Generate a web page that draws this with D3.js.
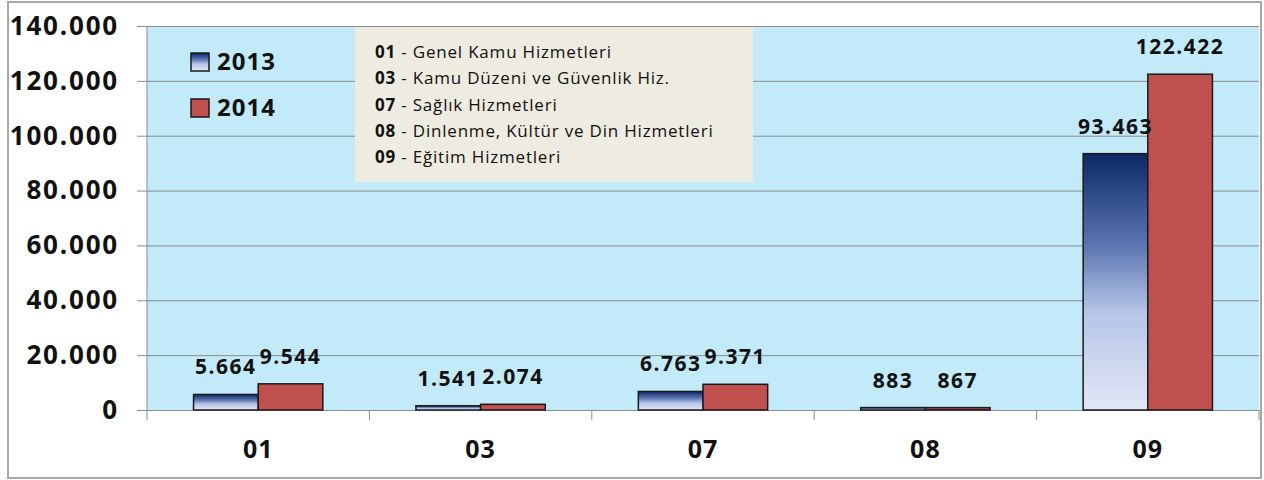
<!DOCTYPE html>
<html>
<head>
<meta charset="utf-8">
<script src="https://cdn.jsdelivr.net/npm/d3@7"></script>
<style>
    body { margin: 0; background: #fff; }
    svg text { font-family: "Open Sans", sans-serif; fill: #111; }
</style>
</head>
<body>
<svg id="chart" width="1264" height="480"></svg>
<script>
const categories = ["01", "03", "07", "08", "09"];
const seriesNames = ["2013", "2014"];
const values2013 = [5664, 1541, 6763, 883, 93463];
const values2014 = [9544, 2074, 9371, 867, 122422];
const yTicks = [0, 20000, 40000, 60000, 80000, 100000, 120000, 140000];
const descriptions = [
    ["01", "Genel Kamu Hizmetleri"],
    ["03", "Kamu Düzeni ve Güvenlik Hiz."],
    ["07", "Sağlık Hizmetleri"],
    ["08", "Dinlenme, Kültür ve Din Hizmetleri"],
    ["09", "Eğitim Hizmetleri"]
];

const svg = d3.select("#chart");
const plot = {left: 147, right: 1259, top: 26, bottom: 410};

const trFormat = d3.formatLocale({decimal: ",", thousands: ".", grouping: [3], currency: ["", ""]}).format(",d");

const x = d3.scaleBand().domain(categories).range([plot.left, plot.right]).padding(0);
const xInner = d3.scaleBand().domain(seriesNames).range([0, x.bandwidth()]).paddingInner(0).paddingOuter(0.72);
const y = d3.scaleLinear().domain([0, 140000]).range([plot.bottom, plot.top]);

// gradient for 2013 bars
const defs = svg.append("defs");
const grad = defs.append("linearGradient").attr("id", "g2013")
    .attr("x1", 0).attr("y1", 0).attr("x2", 0).attr("y2", 1);
[[0, "#0c2966"], [0.35, "#5873b0"], [0.62, "#b6c5e7"], [1, "#e1e7f5"]].forEach(s => {
    grad.append("stop").attr("offset", s[0]).attr("stop-color", s[1]);
});
const fills = {"2013": "url(#g2013)", "2014": "#c0504d"};

// outer frame
svg.append("rect").attr("x", 8).attr("y", 2).attr("width", 1253).attr("height", 476)
    .attr("fill", "#fff").attr("stroke", "#a6a6a6").attr("stroke-width", 2);

svg.append("rect").attr("x", plot.left).attr("y", plot.top)
    .attr("width", plot.right - plot.left).attr("height", plot.bottom - plot.top)
    .attr("fill", "#c2eaf9");

// y axis with gridlines
const yAxis = svg.append("g").attr("transform", "translate(" + plot.left + ",0)")
    .call(d3.axisLeft(y).tickValues(yTicks).tickFormat(trFormat)
        .tickSize(-(plot.right - plot.left)).tickPadding(28));
yAxis.select(".domain").remove();
yAxis.selectAll(".tick line").attr("stroke", "#8c8c8c").attr("x1", -10);
yAxis.selectAll(".tick text")
    .attr("font-size", 26).attr("font-weight", 700).attr("letter-spacing", 1.8)
    .attr("font-family", "'Open Sans', sans-serif").attr("fill", "#111");

svg.append("line").attr("x1", plot.left).attr("x2", plot.left)
    .attr("y1", plot.top).attr("y2", plot.bottom).attr("stroke", "#8c8c8c");

// x axis
const xAxis = svg.append("g").attr("transform", "translate(0," + plot.bottom + ")")
    .call(d3.axisBottom(x).tickSize(0).tickPadding(30));
xAxis.select(".domain").attr("stroke", "#8c8c8c");
xAxis.selectAll(".tick text")
    .attr("font-size", 25).attr("font-weight", 700).attr("letter-spacing", 1)
    .attr("font-family", "'Open Sans', sans-serif").attr("fill", "#111");
xAxis.selectAll(".boundary")
    .data(categories.concat(["end"]))
    .join("line")
    .attr("class", "boundary")
    .attr("x1", (d, i) => plot.left + i * x.step())
    .attr("x2", (d, i) => plot.left + i * x.step())
    .attr("y1", 0).attr("y2", 10)
    .attr("stroke", "#8c8c8c");

// bars
const rows = categories.map((c, i) => ({
    cat: c,
    items: [{s: "2013", v: values2013[i]}, {s: "2014", v: values2014[i]}]
}));

const groups = svg.append("g").selectAll("g").data(rows).join("g")
    .attr("transform", d => "translate(" + x(d.cat) + ",0)");

groups.selectAll("rect").data(d => d.items).join("rect")
    .attr("x", d => xInner(d.s))
    .attr("y", d => y(d.v))
    .attr("width", xInner.bandwidth())
    .attr("height", d => plot.bottom - y(d.v))
    .attr("fill", d => fills[d.s])
    .attr("stroke", "#1a1a1a")
    .attr("stroke-width", 1.5);

groups.selectAll("text").data(d => d.items).join("text")
    .attr("x", d => xInner(d.s) + xInner.bandwidth() / 2)
    .attr("y", d => y(d.v) - 20)
    .attr("text-anchor", "middle")
    .attr("font-size", 21).attr("font-weight", 700).attr("letter-spacing", 1.5)
    .text(d => trFormat(d.v));

// series legend
const legend = svg.append("g");
seriesNames.forEach((s, i) => {
    legend.append("rect").attr("x", 191).attr("y", 53 + i * 46).attr("width", 18).attr("height", 18)
        .attr("fill", fills[s]).attr("stroke", "#1a1a1a").attr("stroke-width", 1.5);
    legend.append("text").attr("x", 217).attr("y", 70 + i * 46)
        .attr("font-size", 24).attr("font-weight", 700).attr("letter-spacing", 1)
        .text(s);
});

// category description box
const box = svg.append("g");
box.append("rect").attr("x", 355).attr("y", 27).attr("width", 398).attr("height", 155)
    .attr("fill", "#eeebe0");
descriptions.forEach((d, i) => {
    const t = box.append("text").attr("x", 375).attr("y", 58 + i * 26.3)
        .attr("font-family", "Lato, sans-serif").attr("font-size", 17).attr("letter-spacing", 0.8);
    t.append("tspan").attr("font-weight", 700).text(d[0]);
    t.append("tspan").text(" - " + d[1]);
});
</script>
</body>
</html>
